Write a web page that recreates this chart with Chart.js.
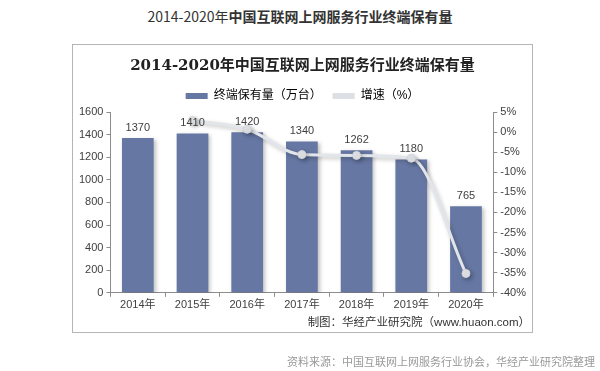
<!DOCTYPE html>
<html>
<head>
<meta charset="utf-8">
<script src="https://cdn.jsdelivr.net/npm/chart.js@4/dist/chart.umd.min.js"></script>
<style>
  html, body { margin: 0; padding: 0; background: #fff; }
  body { width: 600px; height: 371px; position: relative; overflow: hidden;
         font-family: "Liberation Sans", "Noto Sans CJK SC", sans-serif; }
  #pageTitle { position: absolute; left: 0; top: 6px; width: 600px; text-align: center;
               font-size: 14px; color: #333; font-family: "Noto Sans CJK SC", sans-serif; }
  #box { position: absolute; left: 72px; top: 44px; width: 461px; height: 289px;
         border: 1px solid #b5b5b5; box-sizing: border-box; }
  #box canvas { position: absolute; left: 0; top: 0; }
  #maker { position: absolute; right: 2px; bottom: 3px; font-size: 11.5px; color: #333; }
  #source { position: absolute; right: 5px; top: 353px; font-size: 11px; color: #999;
            font-family: "Noto Sans CJK SC", sans-serif; }
</style>
</head>
<body>
<div id="pageTitle">2014-2020年<b>中国互联网上网服务行业终端保有量</b></div>
<div id="box">
  <canvas id="chart" width="459" height="287"></canvas>
  <div id="maker">制图：华经产业研究院（www.huaon.com）</div>
</div>
<div id="source">资料来源：中国互联网上网服务行业协会，华经产业研究院整理</div>
<script>
const years = ['2014年', '2015年', '2016年', '2017年', '2018年', '2019年', '2020年'];
const terminals = [1370, 1410, 1420, 1340, 1262, 1180, 765];
const growth = [null, 2.9, 0.7, -5.6, -5.8, -6.5, -35.2];
const leftTicks = [0, 1600, 200];
const rightTicks = [-40, 5, 5];

const FONT = '"Liberation Sans", "Noto Sans CJK SC", sans-serif';

const shadowPlugin = {
  id: 'shadow',
  beforeDatasetDraw(chart, args) {
    const ctx = chart.ctx;
    ctx.save();
    ctx.shadowColor = 'rgba(0,0,0,0.25)';
    ctx.shadowBlur = 4;
    ctx.shadowOffsetX = 2;
    ctx.shadowOffsetY = 2;
  },
  afterDatasetDraw(chart) {
    chart.ctx.restore();
  }
};

const barLabels = {
  id: 'barLabels',
  afterDatasetsDraw(chart) {
    const ctx = chart.ctx;
    const meta = chart.getDatasetMeta(1);
    ctx.save();
    ctx.font = '11px ' + FONT;
    ctx.fillStyle = '#404040';
    ctx.textAlign = 'center';
    ctx.textBaseline = 'bottom';
    meta.data.forEach(function(bar, i) {
      ctx.fillText(terminals[i], bar.x, bar.y - 5);
    });
    ctx.restore();
  }
};

new Chart(document.getElementById('chart'), {
  data: {
    labels: years,
    datasets: [
      {
        type: 'line',
        label: '增速（%）',
        data: growth,
        yAxisID: 'y1',
        borderColor: '#e2e5e9',
        backgroundColor: '#e6e8ec',
        borderWidth: 3,
        tension: 0.4,
        cubicInterpolationMode: 'monotone',
        spanGaps: true,
        pointRadius: 4,
        pointBackgroundColor: '#e4e6ea',
        pointBorderColor: '#d0d4da',
        pointBorderWidth: 1,
        order: 0
      },
      {
        type: 'bar',
        label: '终端保有量（万台）',
        data: terminals,
        yAxisID: 'y',
        backgroundColor: '#6677a3',
        categoryPercentage: 1,
        barPercentage: 0.58,
        order: 1
      }
    ]
  },
  options: {
    responsive: false,
    animation: false,
    layout: { padding: { left: 3, right: 3, top: 0, bottom: 18 } },
    plugins: {
      title: {
        display: true,
        text: '2014-2020年中国互联网上网服务行业终端保有量',
        color: '#222',
        font: { family: '"DejaVu Serif", "Noto Sans CJK SC", serif', size: 15, weight: 'bold' },
        padding: { top: 12, bottom: 4 }
      },
      legend: {
        display: true,
        labels: {
          color: '#404040',
          font: { family: FONT, size: 12 },
          boxWidth: 22,
          boxHeight: 6,
          padding: 11,
          generateLabels(chart) {
            return [
              { text: '终端保有量（万台）', fillStyle: '#6677a3', strokeStyle: '#6677a3', lineWidth: 0, datasetIndex: 1 },
              { text: '增速（%）', fillStyle: '#dcdfe4', strokeStyle: '#dcdfe4', lineWidth: 0, datasetIndex: 0 }
            ];
          }
        }
      },
      tooltip: { enabled: false }
    },
    scales: {
      x: {
        offset: true,
        grid: { offset: true, drawOnChartArea: false, tickLength: 4, color: '#8c8c8c' },
        border: { color: '#8c8c8c' },
        ticks: { color: '#404040', font: { family: FONT, size: 11 }, padding: 2 }
      },
      y: {
        position: 'left',
        min: leftTicks[0],
        max: leftTicks[1],
        grid: { drawOnChartArea: false, tickLength: 4, color: '#8c8c8c' },
        border: { color: '#8c8c8c' },
        ticks: {
          stepSize: leftTicks[2],
          color: '#404040',
          font: { family: FONT, size: 11 },
          padding: 3,
          callback: function(v) { return String(v); }
        }
      },
      y1: {
        position: 'right',
        min: rightTicks[0],
        max: rightTicks[1],
        grid: { drawOnChartArea: false, tickLength: 4, color: '#8c8c8c' },
        border: { color: '#8c8c8c' },
        ticks: {
          stepSize: rightTicks[2],
          color: '#404040',
          font: { family: FONT, size: 11 },
          padding: 3,
          callback: function(v) { return v + '%'; }
        }
      }
    }
  },
  plugins: [shadowPlugin, barLabels]
});
</script>
</body>
</html>
